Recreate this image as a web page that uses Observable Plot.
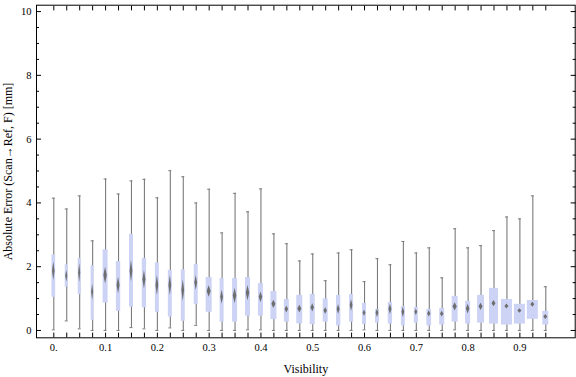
<!DOCTYPE html>
<html><head><meta charset="utf-8">
<script src="https://cdn.jsdelivr.net/npm/d3@7"></script>
<script src="https://cdn.jsdelivr.net/npm/@observablehq/plot@0.6"></script>
<style>body{margin:0;background:#fff} svg{display:block}</style>
</head><body><div id="chart"></div>
<script>
// Box positions (visibility)
const visibility = [0, 0.025, 0.05, 0.075, 0.1, 0.125, 0.15, 0.175, 0.2, 0.225, 0.25, 0.275, 0.3, 0.325, 0.35, 0.375, 0.4, 0.425, 0.45, 0.475, 0.5, 0.525, 0.55, 0.575, 0.6, 0.625, 0.65, 0.675, 0.7, 0.725, 0.75, 0.775, 0.8, 0.825, 0.85, 0.875, 0.9, 0.925, 0.95];
const whiskerLow = [0.02,0.30,0.05,0.00,0.00,0.00,0.09,0.05,0.00,0.08,0.00,0.16,0.00,0.00,0.00,0.02,0.02,0.00,0.00,0.00,0.00,0.00,0.00,0.00,0.02,0.00,0.00,0.00,0.00,0.00,0.00,0.02,0.00,0.00,0.00,0.00,0.00,0.00,0.00];
const quartile1 = [1.04,1.36,1.12,0.32,0.86,0.60,0.73,0.71,0.57,0.42,0.29,0.82,0.57,0.26,0.26,0.45,0.45,0.34,0.26,0.21,0.18,0.26,0.14,0.26,0.18,0.23,0.20,0.14,0.23,0.14,0.17,0.26,0.20,0.23,0.20,0.17,0.20,0.35,0.17];
const median = [1.86,1.70,1.80,1.20,1.72,1.41,1.86,1.59,1.41,1.41,1.25,1.49,1.22,1.04,1.08,1.17,1.04,0.82,0.66,0.67,0.71,0.61,0.66,0.78,0.54,0.54,0.66,0.57,0.57,0.52,0.51,0.74,0.67,0.74,0.84,0.75,0.61,0.81,0.42];
const quartile3 = [2.37,2.06,2.26,2.03,2.53,2.16,3.01,2.26,2.12,1.88,1.90,2.07,1.66,1.63,1.63,1.66,1.47,1.22,0.97,1.10,1.13,0.99,1.10,1.13,0.85,0.66,0.88,0.75,0.72,0.66,0.69,1.07,0.91,1.10,1.32,0.97,0.82,0.94,0.60];
const whiskerHigh = [4.15,3.81,4.22,2.81,4.75,4.28,4.69,4.74,4.16,5.01,4.82,4.00,4.43,3.06,4.30,3.72,4.44,3.03,2.72,2.18,2.40,1.56,2.43,2.53,1.53,2.25,2.06,2.79,2.43,2.59,1.65,3.19,2.59,2.66,3.13,3.56,3.50,4.22,1.37];
// half-width of the median notch (confidence interval)
const medianCI = [0.29,0.18,0.30,0.26,0.26,0.26,0.34,0.29,0.31,0.31,0.34,0.23,0.18,0.22,0.24,0.24,0.17,0.13,0.11,0.12,0.13,0.10,0.15,0.18,0.10,0.13,0.16,0.16,0.10,0.10,0.09,0.13,0.15,0.11,0.10,0.08,0.07,0.08,0.08];
// sample counts (box width grows with sqrt of count)
const counts = [38,25,25,25,69,51,44,51,44,44,44,44,100,44,69,69,69,100,69,100,69,69,51,44,44,44,51,44,44,61,69,100,69,136,225,336,336,336,100];

const xTickValues = [0, 0.1, 0.2, 0.3, 0.4, 0.5, 0.6, 0.7, 0.8, 0.9];
const xTickLabels = ["0.", "0.1", "0.2", "0.3", "0.4", "0.5", "0.6", "0.7", "0.8", "0.9"];
const yTickValues = [0, 2, 4, 6, 8, 10];
const yTickLabels = ["0", "2", "4", "6", "8", "10"];
const yMinorTicks = [0.5, 1, 1.5, 2.5, 3, 3.5, 4.5, 5, 5.5, 6.5, 7, 7.5, 8.5, 9, 9.5];
const xTitle = "Visibility";
const yTitle = "Absolute Error (Scan\u2192Ref, F) [mm]";

const W = 576, H = 377;
const mL = 36, mR = 1.3, mT = 4.7, mB = 39.7;
const xDomain = [-0.0334, 1.0068], yDomain = [-0.23, 10.2];
const pxPerX = (W - mL - mR) / (xDomain[1] - xDomain[0]);

const boxes = visibility.map((x, i) => {
  const wpx = 0.6 * Math.sqrt(counts[i]);
  return {x, lo: whiskerLow[i], q1: quartile1[i], med: median[i], q3: quartile3[i], hi: whiskerHigh[i],
    ci: medianCI[i], hw: wpx / 2 / pxPerX, dhw: Math.min(2, wpx * 0.35) / pxPerX};
});
const capHalf = 1.5 / pxPerX;
const notch = boxes.flatMap((b, k) => [
  {k, y: b.med - b.ci, x1: b.x, x2: b.x},
  {k, y: b.med, x1: b.x - b.dhw, x2: b.x + b.dhw},
  {k, y: b.med + b.ci, x1: b.x, x2: b.x}
]);

const whiskerColor = "#7a7a7a";
const boxColor = "#ccd3f5";

const svg = Plot.plot({
  width: W, height: H,
  marginLeft: mL, marginRight: mR, marginTop: mT, marginBottom: mB,
  style: {fontFamily: "'Liberation Serif', 'Times New Roman', serif", fontSize: "10.5px", color: "black", background: "white"},
  x: {domain: xDomain, axis: null},
  y: {domain: yDomain, axis: null},
  marks: [
    Plot.ruleX(boxes, {x: "x", y1: "lo", y2: "hi", stroke: whiskerColor, strokeWidth: 1.1}),
    Plot.ruleY(boxes, {y: "hi", x1: d => d.x - capHalf, x2: d => d.x + capHalf, stroke: whiskerColor, strokeWidth: 1}),
    Plot.ruleY(boxes, {y: "lo", x1: d => d.x - capHalf, x2: d => d.x + capHalf, stroke: whiskerColor, strokeWidth: 1}),
    Plot.rect(boxes, {x1: d => d.x - d.hw, x2: d => d.x + d.hw, y1: "q1", y2: "q3", fill: boxColor}),
    Plot.areaX(notch, {y: "y", x1: "x1", x2: "x2", z: "k", fill: "#6e6e6e"}),
    // frame ticks
    Plot.axisY({anchor: "left", ticks: yTickValues, tickSize: -5, tickFormat: () => "", label: null}),
    Plot.axisY({anchor: "left", ticks: yMinorTicks, tickSize: -3, tickFormat: () => "", label: null}),
    Plot.axisY({anchor: "right", ticks: yTickValues, tickSize: -5, tickFormat: () => "", label: null}),
    Plot.axisY({anchor: "right", ticks: yMinorTicks, tickSize: -3, tickFormat: () => "", label: null}),
    Plot.axisY({anchor: "left", ticks: yTickValues, tickSize: 0, tickPadding: 5, tickFormat: d => yTickLabels[yTickValues.indexOf(d)], label: null}),
    Plot.axisX({anchor: "bottom", ticks: visibility, tickSize: -4.7, tickFormat: () => "", label: null}),
    Plot.axisX({anchor: "top", ticks: visibility, tickSize: -4.7, tickFormat: () => "", label: null}),
    Plot.axisX({anchor: "bottom", ticks: xTickValues, tickSize: 0, tickPadding: 6, tickFormat: d => xTickLabels[xTickValues.indexOf(d)], label: null}),
    Plot.frame({stroke: "black"}),
    Plot.text([xTitle], {frameAnchor: "bottom", text: d => d, dy: 31.7, lineAnchor: "middle", textAnchor: "middle", fontSize: 12}),
    Plot.text([yTitle], {frameAnchor: "left", text: d => d, dx: -28, rotate: -90, lineAnchor: "middle", textAnchor: "middle", fontSize: 12})
  ]
});

// soft (blurred) median notches
const defs = document.createElementNS("http://www.w3.org/2000/svg", "defs");
defs.innerHTML = '<filter id="notchBlur" x="-100%" y="-50%" width="300%" height="200%"><feGaussianBlur stdDeviation="0.6"/></filter>';
svg.insertBefore(defs, svg.firstChild);
const areaG = svg.querySelector('g[aria-label="area"]');
if (areaG) areaG.setAttribute("filter", "url(#notchBlur)");

document.getElementById("chart").appendChild(svg);
</script>
</body></html>
